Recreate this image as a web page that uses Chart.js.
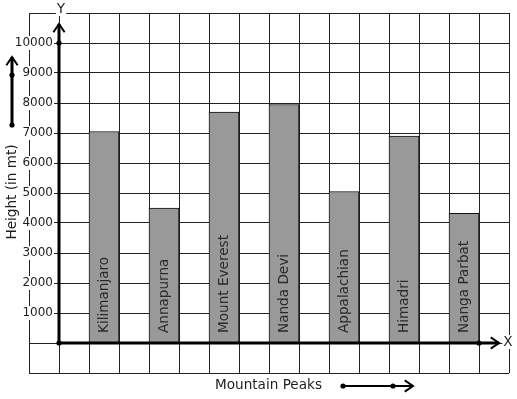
<!DOCTYPE html>
<html>
<head>
<meta charset="utf-8">
<script src="https://cdn.jsdelivr.net/npm/chart.js@4"></script>
<style>
  html, body { margin: 0; padding: 0; background: #fff; }
  canvas { display: block; }
</style>
</head>
<body>
<canvas id="chart" width="517" height="399"></canvas>
<script>
// data
const peaks = ['Kilimanjaro', 'Annapurna', 'Mount Everest', 'Nanda Devi', 'Appalachian', 'Himadri', 'Nanga Parbat'];
const heights = [7050, 4500, 7700, 7950, 5050, 6900, 4320];
const yTickLabels = [1000, 2000, 3000, 4000, 5000, 6000, 7000, 8000, 9000, 10000];
const xTitle = 'Mountain Peaks';
const yTitle = 'Height (in mt)';

const FONT = '"DejaVu Sans", sans-serif';
const INK = '#1e1e1e';

function dot(ctx, x, y) {
    ctx.beginPath();
    ctx.arc(x, y, 2.6, 0, Math.PI * 2);
    ctx.fill();
}

function arrow(ctx, x1, y1, x2, y2, width, head) {
    const a = Math.atan2(y2 - y1, x2 - x1);
    ctx.lineWidth = width;
    ctx.beginPath();
    ctx.moveTo(x1, y1);
    ctx.lineTo(x2, y2);
    ctx.stroke();
    ctx.lineWidth = 2;
    ctx.beginPath();
    ctx.moveTo(x2 - head * Math.cos(a - 0.6), y2 - head * Math.sin(a - 0.6));
    ctx.lineTo(x2, y2);
    ctx.lineTo(x2 - head * Math.cos(a + 0.6), y2 - head * Math.sin(a + 0.6));
    ctx.stroke();
}

function boxedText(ctx, text, x, y, align) {
    const w = ctx.measureText(text).width;
    const left = align === 'right' ? x - w : align === 'center' ? x - w / 2 : x;
    ctx.fillStyle = '#fff';
    ctx.fillRect(left - 1, y - 7, w + 2, 14);
    ctx.fillStyle = INK;
    ctx.textAlign = align;
    ctx.fillText(text, x, y);
}

const overlay = {
    id: 'overlay',
    afterDraw(chart) {
        const { ctx, chartArea } = chart;
        const xs = chart.scales.x, ys = chart.scales.y;
        const ox = xs.getPixelForValue(0), oy = ys.getPixelForValue(0);
        ctx.save();
        ctx.fillStyle = INK;
        ctx.strokeStyle = '#000';
        ctx.textBaseline = 'middle';

        // names inside the bars
        ctx.font = '13.6px ' + FONT;
        chart.getDatasetMeta(0).data.forEach((bar, i) => {
            ctx.save();
            ctx.translate(bar.x, oy - 10);
            ctx.rotate(-Math.PI / 2);
            ctx.fillStyle = '#2a2a2a';
            ctx.textAlign = 'left';
            ctx.fillText(peaks[i], 0, 0);
            ctx.restore();
        });

        // thick axes with arrows and dots
        ctx.fillStyle = '#000';
        arrow(ctx, ox, oy, chartArea.right - 10, oy, 3, 10);
        arrow(ctx, ox, oy, ox, chartArea.top + 11, 3, 10);
        dot(ctx, ox, ys.getPixelForValue(10000));
        dot(ctx, ox, oy);
        dot(ctx, xs.getPixelForValue(14), oy);

        // y tick labels
        ctx.font = '12px ' + FONT;
        yTickLabels.forEach(v => {
            boxedText(ctx, String(v), ox - 6, ys.getPixelForValue(v), 'right');
        });

        // axis letters
        ctx.font = '13.6px ' + FONT;
        boxedText(ctx, 'Y', ox + 2, chartArea.top - 4, 'center');
        boxedText(ctx, 'X', chartArea.right - 1, oy - 1, 'center');

        // y title and its arrow
        ctx.save();
        ctx.translate(12, 192);
        ctx.rotate(-Math.PI / 2);
        ctx.textAlign = 'center';
        ctx.fillStyle = INK;
        ctx.fillText(yTitle, 0, 0);
        ctx.restore();
        ctx.fillStyle = '#000';
        arrow(ctx, 12, 125, 12, 57, 3, 10);
        dot(ctx, 12, 125);
        dot(ctx, 12, 75);

        // x title and its arrow
        ctx.fillStyle = INK;
        ctx.textAlign = 'left';
        ctx.fillText(xTitle, 215, 385);
        ctx.fillStyle = '#000';
        arrow(ctx, 343, 386, 413, 386, 2, 10);
        dot(ctx, 343, 386);
        dot(ctx, 393, 386);

        ctx.restore();
    }
};

new Chart(document.getElementById('chart'), {
    type: 'bar',
    data: {
        datasets: [{
            data: peaks.map((p, i) => ({ x: 2 * i + 1.5, y: heights[i] })),
            backgroundColor: '#999999',
            borderColor: '#111',
            borderWidth: 1,
            categoryPercentage: 1,
            barPercentage: 1
        }]
    },
    options: {
        responsive: false,
        animation: false,
        devicePixelRatio: 1,
        layout: { padding: { left: 29, top: 13, right: 8, bottom: 26 } },
        plugins: { legend: { display: false }, tooltip: { enabled: false } },
        scales: {
            x: {
                type: 'linear', min: -1, max: 15, offset: false,
                ticks: { stepSize: 1, display: false },
                grid: { color: '#222', drawTicks: false, offset: false },
                border: { display: false },
                afterFit: s => { s.height = 0; }
            },
            y: {
                min: -1000, max: 11000,
                ticks: { stepSize: 1000, display: false },
                grid: { color: '#222', drawTicks: false },
                border: { display: false },
                afterFit: s => { s.width = 0; }
            }
        }
    },
    plugins: [overlay]
});
</script>
</body>
</html>
